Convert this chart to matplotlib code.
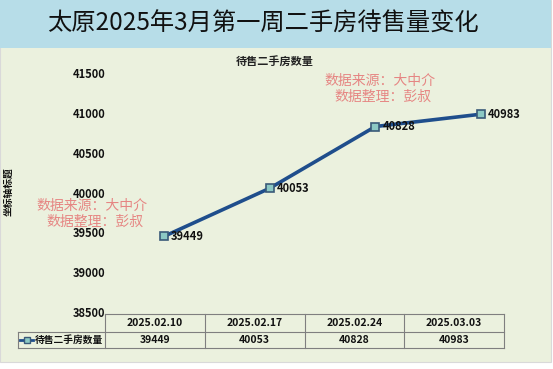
import matplotlib
matplotlib.use("Agg")
import matplotlib.pyplot as plt
from matplotlib.patches import Rectangle

plt.rcParams['font.family'] = ['Noto Sans CJK SC', 'DejaVu Sans']

title = "太原2025年3月第一周二手房待售量变化"
series_name = "待售二手房数量"
dates = ["2025.02.10", "2025.02.17", "2025.02.24", "2025.03.03"]
values = [39449, 40053, 40828, 40983]
y_ticks = [38500, 39000, 39500, 40000, 40500, 41000, 41500]
y_label = "坐标轴标题"
watermark = ["数据来源：大中介", "数据整理：彭叔"]

W, H = 553, 369
fig = plt.figure(figsize=(W / 100, H / 100), dpi=100)
fig.patch.set_facecolor("white")

def fx(px):
    return px / W

def fy(py):
    return 1 - py / H

# chart background
bg = fig.add_axes([0, 0, 1, 1], zorder=0)
bg.set_xlim(0, W)
bg.set_ylim(H, 0)
bg.axis("off")
bg.add_patch(Rectangle((0, 0), 551, 362, facecolor="#ebf1de", edgecolor="#d9d9d9", lw=0.8))
bg.add_patch(Rectangle((0, 0), 551, 48, facecolor="#b7dde8", edgecolor="none"))
bg.text(263, 24, title, ha="center", va="center", fontsize=17.5, color="#111111")
bg.text(275, 62, series_name, ha="center", va="center", fontsize=8, fontweight="bold", color="#222222")
bg.text(9, 192, y_label, ha="center", va="center", rotation=90, fontsize=7, fontweight="bold", color="#111111")

# plot axes
left, right, top, bottom = 112, 505, 73, 312
ax = fig.add_axes([fx(left), fy(bottom), fx(right - left), (bottom - top) / H], zorder=2)
ax.set_facecolor("none")
x = list(range(len(values)))
ax.plot(x, values, color="#1f4e8c", lw=2.6, marker="s", markersize=5.5,
        markerfacecolor="#8cc9c4", markeredgecolor="#3a5a78", markeredgewidth=1.2, zorder=3)
for xi, v in zip(x, values):
    ax.annotate(str(v), (xi, v), xytext=(5, 0), textcoords="offset points",
                ha="left", va="center", fontsize=8, fontweight="bold", color="#111111")
ax.set_ylim(y_ticks[0], y_ticks[-1])
ax.set_yticks(y_ticks)
ax.set_yticklabels([str(t) for t in y_ticks], fontsize=8, fontweight="bold", color="#111111")
ax.set_xlim(-0.492, 3.227)
ax.set_xticks([])
ax.tick_params(axis="y", length=0, pad=5)
for s in ax.spines.values():
    s.set_visible(False)

# watermark
wm_color = "#e57373"
for (cx, cy) in [(92, 206), (380, 81)]:
    bg.text(cx, cy, watermark[0], ha="center", va="center", fontsize=10, color=wm_color, alpha=0.85, zorder=5)
    bg.text(cx + 3, cy + 15.5, watermark[1], ha="center", va="center", fontsize=10, color=wm_color, alpha=0.85, zorder=5)

# data table
tb = fig.add_axes([0, 0, 1, 1], zorder=3)
tb.set_xlim(0, W)
tb.set_ylim(H, 0)
tb.axis("off")
t_left, t_top, r1, t_bot = 105, 314, 332, 348
leg_left = 18
col_w = (504 - t_left) / len(dates)
lc = "#7f7f7f"
tb.plot([t_left, 504], [t_top, t_top], color=lc, lw=0.8)
tb.plot([leg_left, 504], [r1, r1], color=lc, lw=0.8)
tb.plot([leg_left, 504], [t_bot, t_bot], color=lc, lw=0.8)
tb.plot([leg_left, leg_left], [r1, t_bot], color=lc, lw=0.8)
for i in range(len(dates) + 1):
    xx = t_left + i * col_w
    tb.plot([xx, xx], [t_top, t_bot], color=lc, lw=0.8)
for i, (d, v) in enumerate(zip(dates, values)):
    cx = t_left + (i + 0.5) * col_w
    tb.text(cx, (t_top + r1) / 2, d, ha="center", va="center", fontsize=7.5, fontweight="bold", color="#111111")
    tb.text(cx, (r1 + t_bot) / 2, str(v), ha="center", va="center", fontsize=7.5, fontweight="bold", color="#111111")
# legend key
tb.plot([20, 33], [340, 340], color="#1f4e8c", lw=2)
tb.plot([26.5], [340], marker="s", markersize=4, markerfacecolor="#8cc9c4", markeredgecolor="#3a5a78", markeredgewidth=1)
tb.text(34.5, 340, series_name, ha="left", va="center", fontsize=7, fontweight="bold", color="#111111")

fig.savefig("out.png", dpi=100)
